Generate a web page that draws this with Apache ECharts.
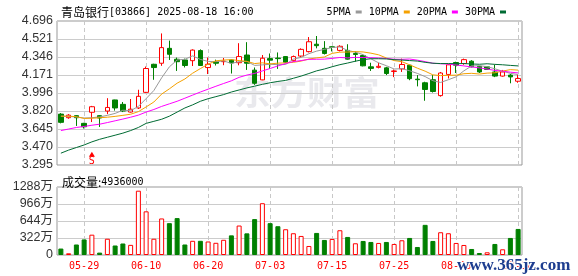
<!DOCTYPE html>
<html>
<head>
<meta charset="utf-8">
<title>青岛银行 日K</title>
<script src="https://cdn.jsdelivr.net/npm/echarts@6/dist/echarts.min.js"></script>
<style>
html, body { margin: 0; padding: 0; background: #fff; }
#chart { width: 578px; height: 276px; }
</style>
</head>
<body>
<div id="chart"></div>
<script>
// 标题
const stockName = '青岛银行'
const stockHead = '[03866] 2025-08-18 16:00'

// 交易日
const dates = [
  '05-26', '05-27', '05-28', '05-29', '05-30',
  '06-02', '06-03', '06-04', '06-05', '06-06', '06-09', '06-10', '06-11', '06-12', '06-13',
  '06-16', '06-17', '06-18', '06-19', '06-20', '06-23', '06-24', '06-25', '06-26', '06-27', '06-30',
  '07-02', '07-03', '07-04', '07-07', '07-08', '07-09', '07-10', '07-11', '07-14', '07-15',
  '07-16', '07-17', '07-18', '07-21', '07-22', '07-23', '07-24', '07-25', '07-28', '07-29',
  '07-30', '07-31', '08-01', '08-04', '08-05', '08-06', '08-07', '08-08', '08-11', '08-12',
  '08-13', '08-14', '08-15', '08-18'
]

// K线
const opens = [
  3.79, 3.755, 3.775, 3.70, 3.808, 3.775, 3.82, 3.928, 3.885, 3.81,
  3.85, 4.002, 4.275, 4.285, 4.43, 4.324, 4.317, 4.31, 4.408, 4.243,
  4.30, 4.30, 4.317, 4.29, 4.365, 4.218, 4.123, 4.33, 4.335, 4.35,
  4.31, 4.355, 4.398, 4.47, 4.43, 4.445, 4.41, 4.41, 4.38, 4.36,
  4.25, 4.245, 4.24, 4.205, 4.23, 4.266, 4.13, 4.095, 4.125, 3.97,
  4.176, 4.292, 4.282, 4.305, 4.255, 4.25, 4.20, 4.16, 4.17, 4.11
]
const closes = [
  3.71, 3.78, 3.755, 3.667, 3.862, 3.752, 3.855, 3.85, 3.82, 3.838,
  3.963, 4.234, 4.243, 4.437, 4.372, 4.30, 4.263, 4.413, 4.263, 4.275,
  4.285, 4.305, 4.288, 4.35, 4.285, 4.09, 4.334, 4.315, 4.33, 4.295,
  4.35, 4.42, 4.494, 4.456, 4.38, 4.44, 4.45, 4.325, 4.37, 4.26,
  4.235, 4.255, 4.185, 4.21, 4.273, 4.135, 4.125, 4.03, 4.01, 4.19,
  4.27, 4.266, 4.32, 4.25, 4.20, 4.225, 4.16, 4.20, 4.152, 4.136
]
const lows = [
  3.70, 3.745, 3.675, 3.65, 3.713, 3.665, 3.79, 3.824, 3.81, 3.805,
  3.84, 3.995, 4.124, 4.26, 4.317, 4.21, 4.244, 4.258, 4.26, 4.18,
  4.263, 4.266, 4.185, 4.265, 4.22, 4.075, 4.12, 4.23, 4.23, 4.29,
  4.30, 4.34, 4.39, 4.43, 4.37, 4.40, 4.40, 4.32, 4.30, 4.255,
  4.21, 4.235, 4.17, 4.15, 4.20, 4.12, 4.06, 3.92, 4.00, 3.96,
  4.137, 4.19, 4.27, 4.245, 4.19, 4.22, 4.15, 4.155, 4.09, 4.095
]
const highs = [
  3.80, 3.79, 3.78, 3.705, 3.87, 3.78, 3.945, 3.93, 3.908, 3.937,
  4.027, 4.253, 4.28, 4.575, 4.505, 4.34, 4.33, 4.42, 4.42, 4.34,
  4.32, 4.336, 4.32, 4.48, 4.49, 4.244, 4.365, 4.38, 4.39, 4.355,
  4.36, 4.43, 4.54, 4.55, 4.50, 4.45, 4.46, 4.47, 4.40, 4.37,
  4.29, 4.29, 4.25, 4.224, 4.33, 4.27, 4.17, 4.105, 4.17, 4.20,
  4.275, 4.30, 4.33, 4.315, 4.26, 4.255, 4.27, 4.22, 4.18, 4.17
]

// 均线
const ma5 = [
  3.770, 3.768, 3.762, 3.752, 3.755, 3.763, 3.778, 3.797, 3.828, 3.823,
  3.865, 3.941, 4.020, 4.143, 4.250, 4.317, 4.323, 4.357, 4.322, 4.303,
  4.300, 4.308, 4.283, 4.301, 4.303, 4.264, 4.269, 4.275, 4.271, 4.273,
  4.325, 4.342, 4.378, 4.403, 4.420, 4.438, 4.444, 4.410, 4.393, 4.369,
  4.328, 4.289, 4.261, 4.229, 4.232, 4.212, 4.186, 4.155, 4.115, 4.098,
  4.125, 4.153, 4.211, 4.259, 4.261, 4.252, 4.231, 4.207, 4.187, 4.175
]
const ma10 = [
  3.770, 3.770, 3.765, 3.748, 3.750, 3.755, 3.760, 3.768, 3.778, 3.789,
  3.814, 3.860, 3.908, 3.985, 4.036, 4.091, 4.132, 4.188, 4.233, 4.276,
  4.309, 4.316, 4.320, 4.311, 4.303, 4.282, 4.289, 4.279, 4.286, 4.288,
  4.294, 4.306, 4.326, 4.337, 4.346, 4.381, 4.393, 4.394, 4.398, 4.395,
  4.383, 4.367, 4.336, 4.311, 4.300, 4.270, 4.237, 4.208, 4.172, 4.165,
  4.168, 4.169, 4.183, 4.187, 4.180, 4.189, 4.192, 4.209, 4.223, 4.218
]
const ma20 = [
  3.630, 3.645, 3.660, 3.670, 3.682, 3.692, 3.708, 3.725, 3.742, 3.760,
  3.780, 3.810, 3.835, 3.865, 3.890, 3.915, 3.945, 3.975, 4.005, 4.033,
  4.061, 4.088, 4.114, 4.148, 4.170, 4.186, 4.210, 4.234, 4.259, 4.282,
  4.301, 4.311, 4.323, 4.324, 4.325, 4.332, 4.341, 4.337, 4.342, 4.341,
  4.339, 4.336, 4.331, 4.324, 4.323, 4.326, 4.315, 4.301, 4.285, 4.280,
  4.276, 4.268, 4.259, 4.249, 4.240, 4.229, 4.215, 4.208, 4.198, 4.191
]
const ma30 = [
  3.410, 3.440, 3.465, 3.490, 3.520, 3.545, 3.565, 3.585, 3.605, 3.630,
  3.660, 3.700, 3.720, 3.740, 3.770, 3.810, 3.850, 3.880, 3.915, 3.940,
  3.960, 3.980, 4.005, 4.025, 4.045, 4.062, 4.080, 4.095, 4.108, 4.118,
  4.139, 4.160, 4.185, 4.211, 4.229, 4.251, 4.271, 4.287, 4.305, 4.320,
  4.329, 4.329, 4.327, 4.320, 4.316, 4.311, 4.306, 4.294, 4.285, 4.282,
  4.282, 4.281, 4.282, 4.278, 4.275, 4.280, 4.274, 4.270, 4.264, 4.259
]

// 成交量(万), 1 = 红 -1 = 绿
const volumes = [
  122, 32, 199, 295, 385, 45, 308, 180, 218, 192,
  1218, 827, 308, 692, 603, 699, 199, 269, 269, 256,
  231, 288, 372, 558, 410, 680, 981, 603, 545, 488,
  412, 361, 171, 418, 285, 304, 469, 342, 222, 266,
  247, 228, 247, 209, 279, 323, 152, 571, 266, 431,
  412, 228, 190, 114, 38, 51, 209, 108, 323, 493.6
]
const volDir = [
  -1, 1, -1, -1, 1, -1, 1, -1, -1, 1,
  1, 1, 1, 1, -1, -1, -1, 1, -1, 1,
  1, 1, -1, 1, -1, -1, 1, -1, -1, 1,
  1, 1, 1, -1, -1, 1, 1, -1, 1, -1,
  -1, 1, -1, 1, 1, -1, -1, -1, -1, 1,
  1, 1, 1, -1, -1, 1, -1, 1, -1, -1
]

// 刻度
const priceTicks = ['3.295', '3.470', '3.645', '3.820', '3.996', '4.171', '4.346', '4.521', '4.696']
const volTicks = ['0', '322万', '644万', '966万', '1288万']

// 信号
const signalIdx = [4]
const signalText = ['S']

const RED = '#ff0000'
const GREEN = '#008000'
const MONO = '"DejaVu Sans Mono", monospace'
const CJK = '"Noto Sans CJK SC", sans-serif'

const priceMin = 3.295
const priceMax = 4.696
const priceStep = (priceMax - priceMin) / 8
const volStep = 322

function showDate(index) {
  return (index - 3) % 8 === 0
}

const kData = dates.map((d, i) => [opens[i], closes[i], lows[i], highs[i]])
const volData = volumes.map((v, i) => ({
  value: v,
  itemStyle: volDir[i] > 0
    ? { color: '#fff', borderColor: RED, borderWidth: 1 }
    : { color: GREEN, borderColor: GREEN, borderWidth: 1 }
}))

const chart = echarts.init(document.getElementById('chart'))
const splitDash = { show: true, alignWithLabel: true, interval: showDate, lineStyle: { color: '#c8c8c8', type: [4, 3] } }
const titleRich = {
  a: { fontFamily: CJK, fontSize: 12, fontWeight: 'normal', color: '#000' },
  b: { fontFamily: MONO, fontSize: 10, fontWeight: 'normal', color: '#000' }
}

chart.setOption({
  animation: false,
  backgroundColor: '#fff',
  title: [
    {
      left: 56,
      top: 1,
      text: '{a|' + stockName + '}{b|' + stockHead + '}',
      textStyle: { fontWeight: 'normal', rich: titleRich }
    },
    {
      left: 57,
      top: 171,
      text: '{a|成交量:}{b|' + Math.round(volumes[volumes.length - 1] * 10000) + '}',
      textStyle: { fontWeight: 'normal', rich: titleRich }
    }
  ],
  legend: {
    right: 67,
    top: 2,
    align: 'right',
    icon: 'rect',
    itemWidth: 6,
    itemHeight: 3,
    itemGap: 7,
    textStyle: { fontFamily: MONO, fontSize: 10, color: '#000' },
    data: ['5PMA', '10PMA', '20PMA', '30PMA']
  },
  graphic: [
    {
      type: 'text',
      x: 234,
      y: 76,
      scaleX: 1.35,
      scaleY: 1.2,
      style: {
        text: '东方财富',
        fontSize: 27,
        fontWeight: 'bold',
        fontFamily: 'Noto Sans CJK SC',
        fill: '#e9e9ed'
      }
    },
    {
      type: 'text',
      left: 456,
      top: 256,
      z: 100,
      style: {
        text: 'www.365jz.com',
        font: 'bold 17px "Liberation Serif"',
        fill: '#1d3d8f',
        stroke: '#fff',
        lineWidth: 2
      }
    }
  ],
  grid: [
    { left: 57, right: 56, top: 21, height: 144, show: true, borderColor: '#999', borderWidth: 1 },
    { left: 57, right: 56, top: 187, height: 68, show: true, borderColor: '#999', borderWidth: 1 }
  ],
  xAxis: [
    {
      type: 'category',
      gridIndex: 0,
      data: dates,
      axisLine: { show: false },
      axisTick: { show: false },
      axisLabel: { show: false },
      splitLine: splitDash
    },
    {
      type: 'category',
      gridIndex: 1,
      data: dates,
      axisLine: { show: false },
      axisTick: { show: false },
      axisLabel: {
        interval: showDate,
        color: RED,
        fontFamily: MONO,
        fontSize: 10,
        margin: 6
      },
      splitLine: splitDash
    }
  ],
  yAxis: [
    {
      type: 'value',
      gridIndex: 0,
      min: priceMin,
      max: priceMax,
      interval: priceStep,
      axisLine: { show: false },
      axisTick: { show: false },
      axisLabel: {
        margin: 4,
        color: '#333',
        fontFamily: 'Liberation Sans',
        fontSize: 12.5,
        formatter: v => priceTicks[Math.round((v - priceMin) / priceStep)]
      },
      splitLine: { lineStyle: { color: '#ccc' } }
    },
    {
      type: 'value',
      gridIndex: 1,
      min: 0,
      max: volStep * 4,
      interval: volStep,
      axisLine: { show: false },
      axisTick: { show: false },
      axisLabel: {
        margin: 4,
        color: '#333',
        fontFamily: 'Liberation Sans, "Noto Sans CJK SC"',
        fontSize: 12.5,
        formatter: v => volTicks[Math.round(v / volStep)]
      },
      splitLine: { lineStyle: { color: '#ccc' } }
    }
  ],
  series: [
    {
      name: 'K',
      type: 'candlestick',
      xAxisIndex: 0,
      yAxisIndex: 0,
      barWidth: 5,
      data: kData,
      itemStyle: {
        color: '#fff',
        color0: GREEN,
        borderColor: RED,
        borderColor0: GREEN,
        borderWidth: 1
      },
      markPoint: {
        symbol: 'triangle',
        symbolSize: [6, 5],
        itemStyle: { color: RED },
        label: {
          show: true,
          position: 'bottom',
          distance: 0,
          color: RED,
          fontFamily: MONO,
          fontSize: 10
        },
        data: signalIdx.map((idx, k) => ({
          coord: [dates[idx], 3.40],
          label: { formatter: signalText[k] }
        }))
      }
    },
    { name: '5PMA', type: 'line', data: ma5, showSymbol: false, color: '#999999', lineStyle: { width: 1 } },
    { name: '10PMA', type: 'line', data: ma10, showSymbol: false, color: '#f5a100', lineStyle: { width: 1 } },
    { name: '20PMA', type: 'line', data: ma20, showSymbol: false, color: '#ff00ff', lineStyle: { width: 1 } },
    { name: '30PMA', type: 'line', data: ma30, showSymbol: false, color: '#006b33', lineStyle: { width: 1 } },
    {
      name: '成交量',
      type: 'bar',
      xAxisIndex: 1,
      yAxisIndex: 1,
      barWidth: 5,
      data: volData
    }
  ]
})
</script>
</body>
</html>
